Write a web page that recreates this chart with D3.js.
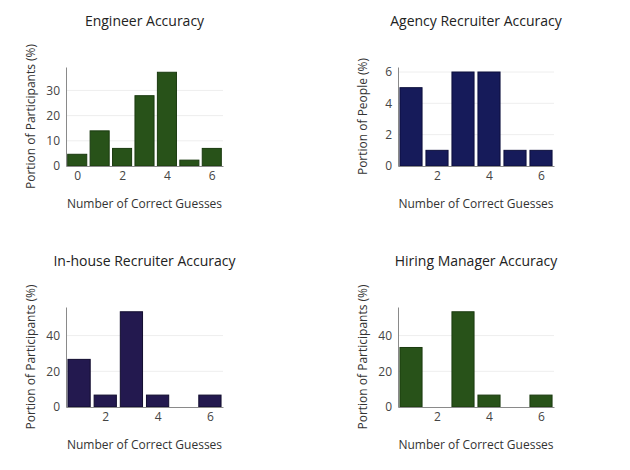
<!DOCTYPE html>
<html><head><meta charset="utf-8">
<script src="https://cdn.jsdelivr.net/npm/d3@7"></script>
<style>body{margin:0;background:#fff}svg{display:block}text{font-family:"Open Sans",sans-serif}</style>
</head><body>
<svg id="c" width="630" height="470"></svg>
<script>
const engineerX = [0,1,2,3,4,5,6];
const engineerY = [4.65,13.95,6.98,27.91,37.21,2.33,6.98];
const agencyX = [1,2,3,4,5,6];
const agencyY = [5,1,6,6,1,1];
const inhouseX = [1,2,3,4,5,6];
const inhouseY = [26.67,6.67,53.33,6.67,0,6.67];
const hiringX = [1,2,3,4,5,6];
const hiringY = [33.33,0,53.33,6.67,0,6.67];
const titles = ["Engineer Accuracy","Agency Recruiter Accuracy","In-house Recruiter Accuracy","Hiring Manager Accuracy"];
const yTitles = ["Portion of Participants (%)","Portion of People (%)","Portion of Participants (%)","Portion of Participants (%)"];
const xTitle = "Number of Correct Guesses";
const yTicks = [[0,10,20,30],[0,2,4,6],[0,20,40],[0,20,40]];
const xTicks = [[0,2,4,6],[2,4,6],[2,4,6],[2,4,6]];

const panels = [
  {x:engineerX,y:engineerY,xd:[-0.5,6.5],yd:[0,39.3],L:66,R:223,T:67,B:166,fill:"#285219",stroke:"#1a3a0f"},
  {x:agencyX,y:agencyY,xd:[0.5,6.5],yd:[0,6.32],L:398,R:554,T:67,B:166,fill:"#161b5a",stroke:"#0c0f3c"},
  {x:inhouseX,y:inhouseY,xd:[0.5,6.5],yd:[0,56],L:66,R:223,T:307,B:407,fill:"#23194f",stroke:"#110c2e"},
  {x:hiringX,y:hiringY,xd:[0.5,6.5],yd:[0,56],L:398,R:554,T:307,B:407,fill:"#285219",stroke:"#1a3a0f"}
];
const svg = d3.select("#c");
panels.forEach((p,i)=>{
  const g = svg.append("g");
  const xs = d3.scaleLinear().domain(p.xd).range([p.L,p.R]);
  const ys = d3.scaleLinear().domain(p.yd).range([p.B,p.T]);
  const bw = (xs(1)-xs(0))*0.85;
  g.selectAll(".grid").data(yTicks[i].filter(t=>t>0)).enter().append("line")
    .attr("x1",p.L).attr("x2",p.R).attr("y1",d=>ys(d)).attr("y2",d=>ys(d))
    .attr("stroke","#eeeeee").attr("stroke-width",1);
  g.selectAll(".bar").data(p.x.map((c,k)=>({c,v:p.y[k]})).filter(d=>d.v>0)).enter().append("rect")
    .attr("x",d=>xs(d.c)-bw/2).attr("width",bw)
    .attr("y",d=>ys(d.v)).attr("height",d=>ys(0)-ys(d.v))
    .attr("fill",p.fill).attr("stroke",p.stroke).attr("stroke-width",1);
  const ya = d3.axisLeft(ys).tickValues(yTicks[i]).tickSize(0).tickPadding(6).tickFormat(d3.format("d"));
  const yg = g.append("g").attr("transform",`translate(${p.L},0)`).call(ya);
  yg.select(".domain").attr("stroke","#8a8a8a");
  const xa = d3.axisBottom(xs).tickValues(xTicks[i]).tickSize(0).tickPadding(5).tickFormat(d3.format("d"));
  const xg = g.append("g").attr("transform",`translate(0,${p.B})`).call(xa);
  xg.select(".domain").attr("stroke","#8a8a8a");
  g.selectAll(".tick text").attr("fill","#444").style("font-size","12px").style("font-family","'Open Sans',sans-serif");
  const cx = (p.L+p.R)/2, cy=(p.T+p.B)/2;
  g.append("text").attr("x",cx).attr("y",p.T-41).attr("text-anchor","middle")
    .attr("fill","#222").style("font-size","14px").text(titles[i]);
  g.append("text").attr("x",cx).attr("y",p.B+42).attr("text-anchor","middle")
    .attr("fill","#333").style("font-size","12px").text(xTitle);
  g.append("text").attr("transform",`translate(${p.L-35},${cy}) rotate(-90)`).attr("text-anchor","middle")
    .attr("dy","0.35em").attr("fill","#333").style("font-size","12px").text(yTitles[i]);
});
</script>
</body></html>
